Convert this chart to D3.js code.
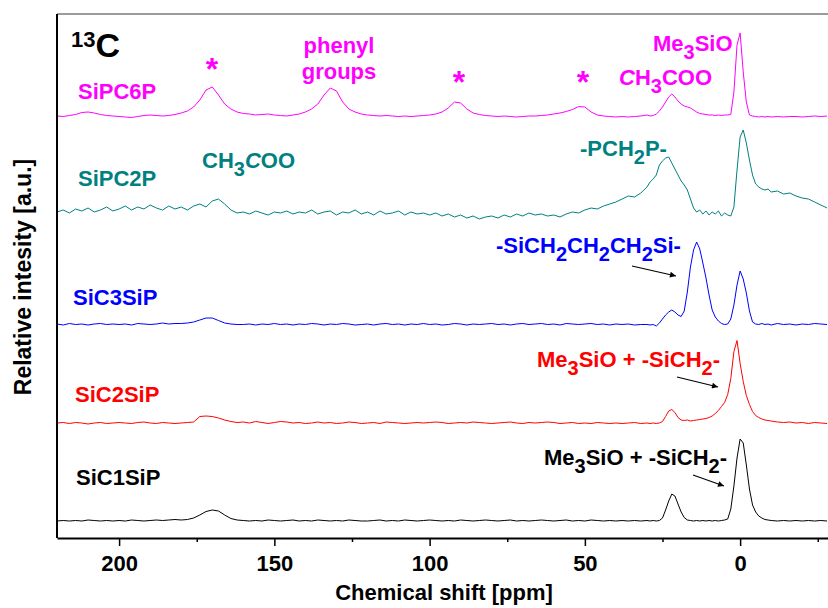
<!DOCTYPE html>
<html>
<head>
<meta charset="utf-8">
<script src="https://cdn.jsdelivr.net/npm/d3@7"></script>
<style>
  body { margin: 0; background: #fff; }
  svg text { font-family: "Liberation Sans", Arial, sans-serif; font-weight: bold; }
</style>
</head>
<body>
<svg id="chart"></svg>
<script>
// chemical shift grid (ppm), shared by all spectra
const shifts = [
  220, 218, 216, 214, 212, 210, 208, 206, 204, 202,
  200, 198, 196, 194, 192, 190, 188, 186, 184, 182,
  180, 178, 176, 174, 172, 170, 168, 166, 164, 162,
  160, 158, 156, 154, 152, 150, 148, 146, 144, 142,
  140, 138, 136, 134, 132, 130, 128, 126, 124, 122,
  120, 118, 116, 114, 112, 110, 108, 106, 104, 102,
  100, 98, 96, 94, 92, 90, 88, 86, 84, 82,
  80, 78, 76, 74, 72, 70, 68, 66, 64, 62,
  60, 58, 56, 54, 52, 50, 48, 46, 44, 42,
  40, 38, 36, 34, 32,
  30, 29, 28, 27, 26, 25, 24, 23, 22, 21,
  20, 19, 18, 17, 16, 15, 14, 13, 12, 11,
  10, 9, 8, 7, 6, 5, 4, 3, 2, 1,
  0, -1, -2, -3, -4, -5, -6, -7, -8, -9, -10,
  -12, -14, -16, -18, -20, -22, -24, -26, -28
];

const sipc6p = [
  1, 0.5, 1.5, 2.5, 4.5, 5, 4, 2.5, 1.5, 1,
  0.5, 0, -0.5, 0.5, 1.5, 2, 1.5, 1, 1.5, 2.5,
  4, 6, 10, 17, 27, 30, 22, 13, 8, 5,
  3.5, 3, 2, 2.5, 3, 2, 1.5, 1, 2, 3,
  5, 8, 13, 22, 29, 26, 15, 8, 5, 3,
  2, 1.5, 1, 1.5, 1, 0.5, 1, 0.5, 1, 1.5,
  2, 3, 5, 9, 15, 14, 8, 4, 2.5, 1.5,
  1, 0.5, 1, 0.5, 0, 0.5, 1, 1, 1.5, 2,
  3, 4, 5.5, 7.5, 10.5, 10, 5, 2, 1, 0.5,
  0, 0.5, 0, 0.5, 1,
  2, 1, 1.5, 3, 6, 10, 15, 20, 23, 20,
  16, 13, 11, 10, 9, 7, 5, 3.5, 3, 2.5,
  2, 2, 1.5, 2, 1.5, 2, 2, 2.5, 25, 72,
  84, 45, 15, 2, 1, 0.5, 0, 0.5, 0, 0.5, 0,
  0.5, 0, 0.5, 0.5, 0, 0.5, 1, 0.5, 1
];

const sipc2p = [
  3, 5, 2, 6, 4, 7, 3, 5, 8, 4,
  6, 9, 5, 8, 6, 10, 7, 5, 9, 6,
  8, 5, 9, 11, 8, 14, 16, 11, 5, 2,
  3, 1, 4, 2, 0, 3, 2, 4, 1, 3,
  2, 5, 1, 3, 4, 0, 3, 2, 5, 1,
  3, 0, 4, 1, 2, 4, 0, 3, 1, 2,
  0, 2, -1, 1, -2, 0, -3, -1, -4, -2,
  -1, -3, 0, -2, 1, -1, 2, 0, 1, -1,
  0, -2, 1, 3, 2, 5, 7, 6, 9, 11,
  13, 16, 19, 18, 22,
  28, 33, 36, 40, 50, 54, 57, 58, 52, 46,
  40, 34, 30, 25, 16, 7, 3, 5, 1, 4,
  0, 3, 1, 4, -1, 2, 0, -1, 8, 45,
  78, 85, 72, 55, 40, 31, 28, 26, 25, 26, 23,
  24, 21, 22, 19, 17, 16, 13, 10, 7
];

const sic3sip = [
  1, 0, 1.5, 0.5, 1, 0, 1, 1.5, 0.5, 1,
  0.5, 1, 0, 1.5, 1, 0.5, 1, 2, 1, 1.5,
  1.5, 2, 3, 5, 7, 7, 4.5, 2, 1, 0.5,
  0.5, 1, 0, 1, 0.5, 1.5, 0.5, 1, 0, 1,
  0.5, 1.5, 1, 0, 1, 0.5, 1.5, 1, 0, 0.5,
  1, 0, 1, 1.5, 0.5, 1, 0, 1, 0.5, 1.5,
  0.5, 1, 0, 0.5, 1.5, 1, 0, 1, 0.5, 1,
  1.5, 0.5, 1, 0, 1, 1.5, 0.5, 1, 1.5, 0.5,
  1, 0, 1.5, 1, 0.5, 1, 1.5, 0.5, 1, 0,
  1, 0.5, 1, 0, 0.5,
  0.5, 0, 0.5, -1, 2, 6, 10, 13, 15, 13,
  10, 8.5, 14, 33, 58, 75, 83, 76, 62, 47,
  30, 15, 8, 4, 1.5, 0.5, 1, 6, 20, 40,
  54, 46, 32, 14, 3, 1, 0.5, 1.5, 0.5, 1, 0,
  1.5, 0.5, 1, 0, 1, 0.5, 1.5, 1, 0.5
];

const sic2sip = [
  0.5, 1, 0, 1, 0.5, -0.5, 0.5, 1, 0, 0.5,
  1, 0.5, 0, 1, 1.5, 0.5, 0, 1, 0.5, 0,
  0.5, 1, 1.5, 7, 7.5, 7, 5.5, 3.5, 2, 1,
  1.5, 0.5, 2, 1, 0, 1, 2, 1.5, 0.5, 1,
  0, 0.5, 1.5, 0.5, 1, 0, 0.5, 1.5, 1, 0,
  0.5, 1, 0, 1.5, 1, 0.5, 0, 0.5, 1, 0.5,
  1, 1.5, 1, 0, 0.5, 1, 0.5, 1.5, 1, 0.5,
  0, 0.5, 1, 1.5, 0.5, 0, 1, 0.5, 1, 1.5,
  1, 0, 0.5, 1, 0, 0.5, 0, 1, 0.5, 0,
  0.5, 0, 0.5, 1, 0,
  0.5, 0, 0.5, 0, 0.5, 2, 7, 12.5, 14, 11,
  6, 3.5, 3, 3.5, 2.5, 3, 3.5, 4, 4.5, 5,
  6, 7.5, 10, 13, 17, 21, 29, 45, 72, 83,
  60, 42, 28, 19, 12, 8, 6, 4.5, 3.5, 3, 2.5,
  1.5, 1, 1.5, 0.5, 1, 0, 1, 0.5, 0
];

const sic1sip = [
  0, 0.5, 0, 0.5, 0, 1, 0.5, 0, 0.5, 0,
  0.5, 0, 1, 0.5, 0, 0.5, 1, 0.5, 1, 1.5,
  1, 1.5, 3, 6, 9.5, 11, 10, 6, 2.5, 1,
  0.5, 0, 0.5, 0, 1, 0.5, 0, 0.5, 1, 0,
  0.5, 0, 1, 0.5, 0, 0.5, 0, 1, 0.5, 0,
  0, 0.5, 1, 0, 0.5, 0, 1, 0.5, 0, 0.5,
  1, 0.5, 0, 0.5, 0, 1, 0.5, 0, 0.5, 1,
  0.5, 0, 0.5, 1, 0, 0.5, 0, 0.5, 1, 0.5,
  0, 0.5, 1, 0, 0.5, 0, 1, 0.5, 0, 0.5,
  0, 0.5, 0, 0.5, 0,
  0.5, 0, 0.5, 0, 0.5, 3, 11, 20, 27, 25,
  17, 9, 3.5, 1, 0.5, 0, 0.5, 0, 0.5, 0,
  0.5, 0, 0.5, 0, 0.5, 1, 2, 12, 35, 63,
  82, 78, 56, 32, 16, 9, 5, 3, 1.5, 1, 0.5,
  0, 0.5, 0, 0.5, 0, 0.5, 0, 0.5, 0
];

// vertical stacking offsets (a.u.)
const names   = ["SiPC6P", "SiPC2P", "SiC3SiP", "SiC2SiP", "SiC1SiP"];
const offsets = [421, 323, 213, 114.5, 17];
const spectra = [sipc6p, sipc2p, sic3sip, sic2sip, sic1sip];
const colors  = ["#ff00ff", "#008080", "#0000ff", "#ff0000", "#000000"];

const majorTicks = [200, 150, 100, 50, 0];
const minorTicks = [175, 125, 75, 25, -25];

const width = 828, height = 608;
const margin = {top: 14, right: 0, bottom: 70, left: 57};

const svg = d3.select("#chart")
    .attr("width", width)
    .attr("height", height);

const x = d3.scaleLinear()
    .domain([220, -28.3])
    .range([margin.left, width - margin.right]);
const y = d3.scaleLinear()
    .domain([0, 524])
    .range([height - margin.bottom, margin.top]);

const line = d3.line()
    .x(d => x(d[0]))
    .y(d => y(d[1]));

svg.append("defs").append("marker")
    .attr("id", "arrow")
    .attr("viewBox", "0 0 10 10")
    .attr("refX", 10).attr("refY", 5)
    .attr("markerWidth", 11).attr("markerHeight", 6)
    .attr("markerUnits", "userSpaceOnUse")
    .attr("orient", "auto")
  .append("path")
    .attr("d", "M0,0L10,5L0,10z")
    .attr("fill", "#000");

svg.append("clipPath").attr("id", "clip")
  .append("rect")
    .attr("x", margin.left).attr("y", margin.top)
    .attr("width", width - margin.left).attr("height", height - margin.top - margin.bottom);

svg.append("g").attr("clip-path", "url(#clip)")
  .selectAll("path")
  .data(spectra.map((s, i) => shifts.map((p, j) => [p, s[j] + offsets[i]])))
  .enter().append("path")
    .attr("d", line)
    .attr("fill", "none")
    .attr("stroke", (d, i) => colors[i])
    .attr("stroke-width", 1)
    .attr("stroke-linejoin", "round");

// frame
svg.append("line")
    .attr("x1", margin.left).attr("x2", width)
    .attr("y1", margin.top).attr("y2", margin.top)
    .attr("stroke", "#7a7a7a").attr("stroke-width", 1.5);

svg.append("line")
    .attr("x1", margin.left).attr("x2", margin.left)
    .attr("y1", margin.top).attr("y2", height - margin.bottom)
    .attr("stroke", "#000").attr("stroke-width", 2);

const xAxis = svg.append("g")
    .attr("transform", `translate(0,${height - margin.bottom})`)
    .call(d3.axisBottom(x).tickValues(majorTicks).tickSizeInner(8).tickSizeOuter(0).tickPadding(9));
xAxis.select(".domain").attr("stroke-width", 2);
xAxis.selectAll(".tick line").attr("stroke-width", 1.5);
xAxis.selectAll("text")
    .attr("font-size", 22)
    .attr("font-family", "Liberation Sans, Arial, sans-serif")
    .attr("font-weight", "bold");

svg.append("g")
    .attr("transform", `translate(0,${height - margin.bottom})`)
    .call(d3.axisBottom(x).tickValues(minorTicks).tickSizeInner(4).tickSizeOuter(0).tickFormat(""))
    .call(g => g.select(".domain").remove())
    .selectAll(".tick line").attr("stroke-width", 1.5);

svg.append("text")
    .attr("x", 444).attr("y", 600)
    .attr("text-anchor", "middle")
    .attr("font-size", 22)
    .text("Chemical shift [ppm]");

svg.append("text")
    .attr("transform", "translate(31,277) rotate(-90)")
    .attr("text-anchor", "middle")
    .attr("font-size", 23)
    .text("Relative intesity [a.u.]");

// 13C
const nuc = svg.append("text").attr("x", 71).attr("y", 57);
nuc.append("tspan").attr("font-size", 22).attr("dy", -10).text("13");
nuc.append("tspan").attr("font-size", 34).attr("dy", 10).text("C");

// sample names
const nameX = [78, 78, 73, 75, 76];
const nameY = [99, 186, 305, 402, 485];
svg.selectAll(".name")
  .data(names)
  .enter().append("text")
    .attr("class", "name")
    .attr("x", (d, i) => nameX[i])
    .attr("y", (d, i) => nameY[i])
    .attr("font-size", 22)
    .attr("fill", (d, i) => colors[i])
    .text(d => d);

// peak labels: parts are [text, "sub" | "it" | ""]
function label(parts, x0, y0, color, anchor = "start", size = 22) {
    const t = svg.append("text")
        .attr("x", x0).attr("y", y0)
        .attr("font-size", size)
        .attr("fill", color)
        .attr("text-anchor", anchor);
    let down = false;
    parts.forEach(([s, k]) => {
        const sp = t.append("tspan").text(s);
        if (k === "sub") {
            sp.attr("font-size", 20).attr("dy", 8);
            down = true;
        } else {
            if (down) { sp.attr("dy", -8); down = false; }
            if (k === "it") sp.attr("font-style", "italic");
        }
    });
    return t;
}

label([["*"]], 212, 80, colors[0], "middle", 32);
label([["*"]], 459, 93, colors[0], "middle", 32);
label([["*"]], 583, 93, colors[0], "middle", 32);
label([["phenyl"]], 339, 53, colors[0], "middle");
label([["groups"]], 339, 79, colors[0], "middle");
label([["Me"], ["3", "sub"], ["SiO"]], 653, 51, colors[0]);
label([["C", "it"], ["H"], ["3", "sub"], ["COO"]], 619, 85, colors[0]);

label([["CH"], ["3", "sub"], ["C", "it"], ["OO"]], 202, 168, colors[1]);
label([["-PCH"], ["2", "sub"], ["P-"]], 580, 156, colors[1]);

label([["-SiCH"], ["2", "sub"], ["CH"], ["2", "sub"], ["CH"], ["2", "sub"], ["Si-"]], 496, 253, colors[2]);
label([["Me"], ["3", "sub"], ["SiO + -SiCH"], ["2", "sub"], ["-"]], 537, 367, colors[3]);
label([["Me"], ["3", "sub"], ["SiO + -SiCH"], ["2", "sub"], ["-"]], 544, 465, colors[4]);

// arrows
const arrows = [
    [[632, 266], [676, 276]],
    [[677, 377], [718, 387]],
    [[693, 475], [724, 486]]
];
svg.selectAll(".arrow")
  .data(arrows)
  .enter().append("line")
    .attr("class", "arrow")
    .attr("x1", d => d[0][0]).attr("y1", d => d[0][1])
    .attr("x2", d => d[1][0]).attr("y2", d => d[1][1])
    .attr("stroke", "#000")
    .attr("stroke-width", 1.2)
    .attr("marker-end", "url(#arrow)");
</script>
</body>
</html>
